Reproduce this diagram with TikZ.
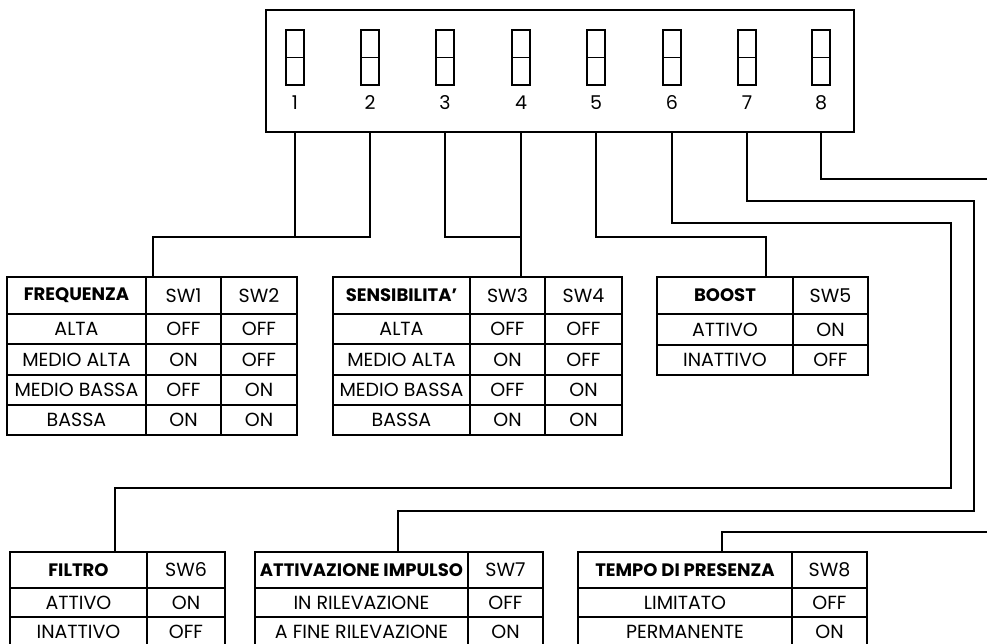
\documentclass[tikz,border=0pt]{standalone}
\usepackage{fontspec}
\setmainfont{Poppins}
\begin{document}
\begin{tikzpicture}[x=1pt,y=-1pt,line width=1.1pt,
  cellst/.style={inner sep=0pt, font=\fontsize{19}{19}\selectfont},
  headst/.style={inner sep=0pt, font=\fontsize{18}{18}\selectfont\bfseries},
  swst/.style={draw, inner sep=0pt, minimum width=18pt, minimum height=55pt},
  numst/.style={inner sep=0pt, font=\fontsize{19}{19}\selectfont},
  boxst/.style={draw, inner sep=0pt, minimum width=588pt, minimum height=122pt}]
\useasboundingbox (0,0) rectangle (987,644);
\newcommand{\tc}[7][cellst]{\draw (#2,#3) rectangle (#4,#6); \node[#1] (#7) at ({(#2+#4)/2},{(#3+#6)/2}) {#5};}
% DIP switch block
\node[boxst] (dip) at (560,71) {};
\foreach \i/\x in {1/295,2/370,3/445,4/521,5/596,6/672,7/747,8/821}{
  \node[swst] (s\i) at (\x,57.5) {};
  \draw (s\i.west) -- (s\i.east);
  \node[numst] (n\i) at (\x,103) {\i};
}
% Table FREQUENZA
\tc[headst]{7}{277}{146}{FREQUENZA}{314}{fa0}
\tc{146}{277}{221}{SW1}{314}{fb0}
\tc{221}{277}{297}{SW2}{314}{fc0}
\tc{7}{314}{146}{ALTA}{344}{fa1}
\tc{146}{314}{221}{OFF}{344}{fb1}
\tc{221}{314}{297}{OFF}{344}{fc1}
\tc{7}{344}{146}{MEDIO ALTA}{375}{fa2}
\tc{146}{344}{221}{ON}{375}{fb2}
\tc{221}{344}{297}{OFF}{375}{fc2}
\tc{7}{375}{146}{MEDIO BASSA}{405}{fa3}
\tc{146}{375}{221}{OFF}{405}{fb3}
\tc{221}{375}{297}{ON}{405}{fc3}
\tc{7}{405}{146}{BASSA}{435}{fa4}
\tc{146}{405}{221}{ON}{435}{fb4}
\tc{221}{405}{297}{ON}{435}{fc4}
% Table SENSIBILITA'
\tc[headst]{333}{277}{470}{SENSIBILITA'}{314}{ga0}
\tc{470}{277}{545}{SW3}{314}{gb0}
\tc{545}{277}{622}{SW4}{314}{gc0}
\tc{333}{314}{470}{ALTA}{344}{ga1}
\tc{470}{314}{545}{OFF}{344}{gb1}
\tc{545}{314}{622}{OFF}{344}{gc1}
\tc{333}{344}{470}{MEDIO ALTA}{375}{ga2}
\tc{470}{344}{545}{ON}{375}{gb2}
\tc{545}{344}{622}{OFF}{375}{gc2}
\tc{333}{375}{470}{MEDIO BASSA}{405}{ga3}
\tc{470}{375}{545}{OFF}{405}{gb3}
\tc{545}{375}{622}{ON}{405}{gc3}
\tc{333}{405}{470}{BASSA}{435}{ga4}
\tc{470}{405}{545}{ON}{435}{gb4}
\tc{545}{405}{622}{ON}{435}{gc4}
% Table BOOST
\tc[headst]{657}{277}{793}{BOOST}{314}{ha0}
\tc{793}{277}{868}{SW5}{314}{hb0}
\tc{657}{314}{793}{ATTIVO}{345}{ha1}
\tc{793}{314}{868}{ON}{345}{hb1}
\tc{657}{345}{793}{INATTIVO}{375}{ha2}
\tc{793}{345}{868}{OFF}{375}{hb2}
% Table FILTRO
\tc[headst]{10}{552}{147}{FILTRO}{588}{ia0}
\tc{147}{552}{225}{SW6}{588}{ib0}
\tc{10}{588}{147}{ATTIVO}{617}{ia1}
\tc{147}{588}{225}{ON}{617}{ib1}
\tc{10}{617}{147}{INATTIVO}{647}{ia2}
\tc{147}{617}{225}{OFF}{647}{ib2}
% Table ATTIVAZIONE IMPULSO
\tc[headst]{255}{552}{468}{ATTIVAZIONE IMPULSO}{588}{ja0}
\tc{468}{552}{543}{SW7}{588}{jb0}
\tc{255}{588}{468}{IN RILEVAZIONE}{617}{ja1}
\tc{468}{588}{543}{OFF}{617}{jb1}
\tc{255}{617}{468}{A FINE RILEVAZIONE}{647}{ja2}
\tc{468}{617}{543}{ON}{647}{jb2}
% Table TEMPO DI PRESENZA
\tc[headst]{578}{552}{792}{TEMPO DI PRESENZA}{588}{ka0}
\tc{792}{552}{867}{SW8}{588}{kb0}
\tc{578}{588}{792}{LIMITATO}{617}{ka1}
\tc{792}{588}{867}{OFF}{617}{kb1}
\tc{578}{617}{792}{PERMANENTE}{647}{ka2}
\tc{792}{617}{867}{ON}{647}{kb2}
% bend and end coordinates
\coordinate (b12) at (153,237);
\coordinate (e12) at (153,277);
\coordinate (e34) at (521,277);
\coordinate (b5) at (766,237);
\coordinate (e5) at (766,277);
\coordinate (b6a) at (951,223);
\coordinate (b6b) at (115,488);
\coordinate (e6) at (115,552);
\coordinate (b7a) at (974,201);
\coordinate (b7b) at (398,511);
\coordinate (e7) at (398,552);
\coordinate (b8a) at (992,179);
\coordinate (b8b) at (992,532);
\coordinate (b8c) at (722,532);
\coordinate (e8) at (722,552);
% wires
\draw (dip.south -| s1) |- (b12) -- (e12);
\draw (dip.south -| s2) |- (s1 |- b12);
\draw (dip.south -| s4) -- (e34);
\draw (dip.south -| s3) |- (s4 |- b12);
\draw (dip.south -| s5) |- (b5) -- (e5);
\draw (dip.south -| s6) |- (b6a) |- (b6b) -- (e6);
\draw (dip.south -| s7) |- (b7a) |- (b7b) -- (e7);
\draw (dip.south -| s8) |- (b8a);
\draw (b8b) -- (b8c) -- (e8);
\end{tikzpicture}
\end{document}
